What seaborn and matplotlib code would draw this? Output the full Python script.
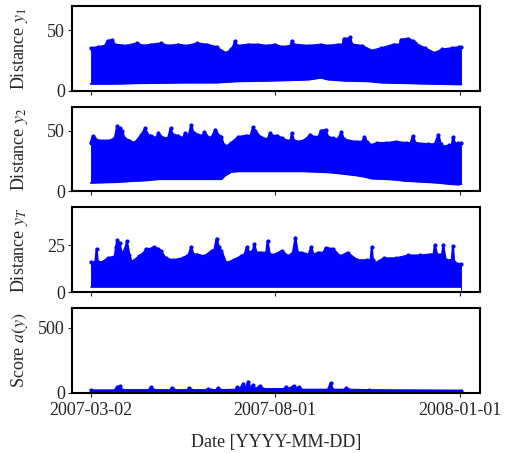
import pandas as pd
import numpy as np
import matplotlib
matplotlib.use("Agg")
import matplotlib.pyplot as plt
import matplotlib.dates as mdates
import seaborn as sns

# Envelopes of the dense point clouds.
# Days are counted from 2007-03-02.
start_date = "2007-03-02"

y1_days = [0, 6, 12, 14, 18, 20, 30, 38, 44, 50, 58, 64, 72, 80, 88, 96, 104, 108,
           112, 116, 118, 119, 121, 130, 138, 146, 152, 158, 165, 166, 168, 180,
           190, 196, 204, 208, 209, 213, 214, 216, 224, 232, 240, 250, 255, 256,
           262, 266, 268, 276, 284, 290, 298, 304, 306]
y1_upper = [35, 36, 37, 41, 42, 38, 37, 39, 37, 38, 39, 37, 38, 37, 39, 38, 36, 33,
            31, 34, 37, 41, 37, 38, 38, 37, 38, 36, 37, 41, 38, 37,
            38, 37, 38, 38, 43, 43, 44, 38, 37, 33, 35, 38, 38, 42,
            43, 41, 39, 35, 31, 34, 35, 36, 36]
y1_low_days = [0, 20, 40, 80, 104, 120, 146, 166, 180, 190, 196, 210, 230, 240, 260,
               280, 306]
y1_lower = [5.5, 5.5, 6, 6.5, 6.5, 7.5, 8, 8.5, 9, 10.5, 9, 8, 7.5, 6.5, 6, 5.5, 5]

y2_days = [0, 2, 6, 16, 20, 22, 24, 26, 28, 32, 36, 40, 42, 45, 48, 50, 54, 56, 60,
           64, 66, 68, 72, 76, 78, 81, 83, 85, 88, 92, 94, 98, 100, 103, 106, 108,
           110, 112, 116, 122, 128, 132, 134, 136, 140, 146, 148, 150, 154, 158,
           162, 165, 166, 168, 172, 178, 181, 184, 188, 190, 194, 196, 200, 204,
           207, 209, 212, 220, 224, 226, 228, 232, 236, 244, 252, 260, 264, 266,
           268, 278, 284, 287, 289, 291, 296, 298, 299, 301, 303, 306]
y2_upper = [40, 46, 42, 42, 44, 54, 52, 50, 44, 42, 40, 44, 47, 52, 46, 46, 44, 48, 44,
            44, 52, 47, 46, 44, 48, 46, 55, 48, 47, 46, 49, 44, 45, 51, 46, 45,
            38, 37, 40, 45, 46, 46, 53, 50, 45, 43, 48, 46, 46, 44,
            42, 42, 48, 42, 41, 43, 47, 45, 45, 50, 51, 45, 44, 43,
            49, 43, 42, 41, 41, 45, 41, 38, 40, 40, 41, 40, 40, 46,
            40, 39, 39, 47, 39, 37, 38, 38, 45, 39, 40, 40]
y2_low_days = [0, 20, 36, 46, 56, 108, 111, 116, 122, 176, 188, 198, 208, 220, 226,
               232, 244, 252, 260, 270, 287, 296, 303, 306]
y2_lower = [7, 7.5, 8.5, 9, 10, 10, 13, 16, 16.5, 16.5, 16, 15.5, 14.5, 13, 12,
            10.5, 10, 9.5, 8.5, 8, 7, 6, 5.5, 6]

yT_days = [0, 4, 5, 6, 10, 14, 20, 21, 22, 24, 26, 29, 30, 32, 34, 40, 44, 46, 50,
           52, 56, 58, 62, 68, 76, 81, 83, 85, 88, 94, 100, 102, 104, 106, 108,
           112, 118, 124, 127, 129, 131, 134, 135, 137, 140, 145, 146, 148, 152,
           158, 163, 167, 169, 171, 174, 180, 182, 184, 188, 192, 194, 200, 206,
           212, 220, 228, 231, 232, 233, 235, 242, 252, 262, 272, 280, 283, 284,
           286, 290, 291, 293, 298, 299, 300, 302, 306]
yT_upper = [16, 16, 23, 16, 16, 18, 19, 24, 27.5, 26, 20, 24, 27, 20, 16, 19, 21, 23, 23,
            24, 23, 22, 18, 17, 18, 20, 24, 20, 20, 19, 22, 22, 28.5, 24, 22,
            15.5, 17, 19, 20, 24, 21, 22, 25.5, 21, 21, 21, 27, 20, 20,
            22, 19, 21, 29, 21, 21, 20, 24, 20, 21, 21, 23.5, 23, 19,
            21, 17, 17, 17, 24, 17, 15.5, 18, 18, 19.5, 19.5, 20, 20, 25,
            20, 20, 25, 17, 17, 24.5, 16, 15, 15]
yT_low_days = [0, 306]
yT_lower = [2.5, 2.5]

score_days = [0, 20, 22, 24, 26, 48, 50, 52, 66, 67, 69, 80, 81, 83, 96, 97, 99, 104,
              105, 107, 120, 121, 123, 126, 128, 130, 132, 134, 136, 140, 142, 160,
              161, 163, 168, 170, 172, 174, 196, 198, 200, 210, 211, 213, 230, 306]
score_upper = [20, 20, 45, 50, 22, 22, 45, 22, 22, 40, 22, 22, 35, 22, 22, 30, 22, 22,
               40, 22, 25, 45, 30, 70, 30, 88, 40, 60, 30, 55, 30, 30,
               45, 30, 55, 30, 45, 25, 25, 77, 25, 25, 40, 25, 22, 18]
score_low_days = [0, 306]
score_lower = [0, 0]

panels = [
    ("Distance $y_1$", y1_days, y1_upper, y1_low_days, y1_lower, 70, [0, 50]),
    ("Distance $y_2$", y2_days, y2_upper, y2_low_days, y2_lower, 70, [0, 50]),
    ("Distance $y_T$", yT_days, yT_upper, yT_low_days, yT_lower, 45, [0, 25]),
    ("Score $a(y)$", score_days, score_upper, score_low_days, score_lower, 650, [0, 500]),
]
tick_dates = ["2007-03-02", "2007-08-01", "2008-01-01"]

sns.set_style("ticks")
plt.rcParams["font.family"] = ["Liberation Serif", "DejaVu Serif"]
plt.rcParams["mathtext.fontset"] = "stix"
plt.rcParams["font.size"] = 13
plt.rcParams["axes.linewidth"] = 1.5
plt.rcParams["xtick.direction"] = "out"
plt.rcParams["ytick.direction"] = "out"
plt.rcParams["xtick.major.size"] = 3
plt.rcParams["ytick.major.size"] = 3
plt.rcParams["xtick.major.pad"] = 3.5
plt.rcParams["ytick.major.pad"] = 2

blue = "#0000ff"

fig, axes = plt.subplots(4, 1, sharex=True, figsize=(5.05, 4.53), dpi=100)
fig.subplots_adjust(left=0.1426, right=0.9505, top=0.987, bottom=0.1325, hspace=0.19)

base = pd.to_datetime(start_date)
for ax, (label, days, upper, low_days, lower, ymax, yticks) in zip(axes, panels):
    top = pd.DataFrame({"date": base + pd.to_timedelta(days, unit="D"), "value": upper})
    bot = pd.DataFrame({"date": base + pd.to_timedelta(low_days, unit="D"), "value": lower})

    # cloud = area under the upper envelope, with the empty strip below the lower one
    ax.fill_between(top["date"], 0, top["value"], color=blue, linewidth=0)
    sns.lineplot(data=top, x="date", y="value", ax=ax, color=blue, linewidth=1.5,
                 marker="o", markersize=3, markeredgewidth=0, estimator=None)
    if max(lower) > 0:
        ax.fill_between(bot["date"], 0, bot["value"], color="white", linewidth=0)
        sns.lineplot(data=bot, x="date", y="value", ax=ax, color=blue,
                     linewidth=1.2, estimator=None)

    ax.set_ylim(0, ymax)
    ax.set_yticks(yticks)
    ax.set_ylabel(label, labelpad=6)
    ax.set_xlabel("")
    for s in ax.spines.values():
        s.set_visible(True)
        s.set_color("black")
        s.set_zorder(5)

axes[-1].set_xticks(pd.to_datetime(tick_dates))
axes[-1].xaxis.set_major_formatter(mdates.DateFormatter("%Y-%m-%d"))
axes[-1].set_xlabel("Date [YYYY-MM-DD]", labelpad=11)
fig.align_ylabels(axes)

fig.savefig("out.png", dpi=100)
